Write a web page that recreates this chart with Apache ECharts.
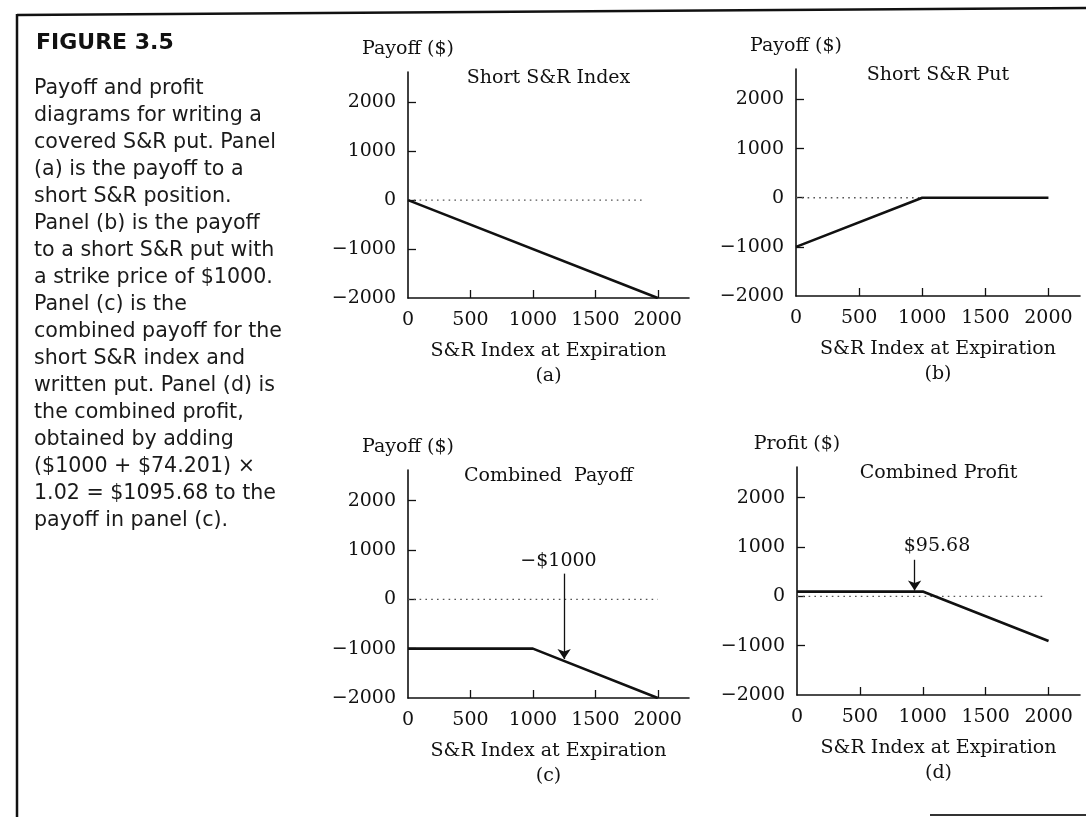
<!DOCTYPE html>
<html>
<head>
<meta charset="utf-8">
<script src="https://cdn.jsdelivr.net/npm/echarts@6/dist/echarts.min.js"></script>
<style>html,body{margin:0;padding:0;background:#fff}#c{width:1086px;height:817px}</style>
</head>
<body>
<div id="c"></div>
<script>
// ---- data ----
const panelTitles = ['Short S&R Index', 'Short S&R Put', 'Combined  Payoff', 'Combined Profit'];
const yNames = ['Payoff ($)', 'Payoff ($)', 'Payoff ($)', 'Profit ($)'];
const xName = 'S&R Index at Expiration';
const panelTags = ['(a)', '(b)', '(c)', '(d)'];
const xTickValues = [500, 1000, 1500, 2000];
const xLabelValues = [0, 500, 1000, 1500, 2000];
const yTickValues = [-1000, 0, 1000, 2000];
const yLabelValues = [-2000, -1000, 0, 1000, 2000];
const shortIndex = [[0, 0], [2000, -2000]];
const shortPut = [[0, -1000], [1000, 0], [2000, 0]];
const combinedPayoff = [[0, -1000], [1000, -1000], [2000, -2000]];
const combinedProfit = [[0, 95.68], [1000, 95.68], [2000, -904.32]];
const zeroLineEnds = [1880, 1000, 2000, 1980];
const arrowC = [[1250, 520], [1250, -1210]];
const arrowD = [[935, 740], [935, 115]];
const noteC = [[1205, 777, '−$1000']];
const noteD = [[1113, 1016, '$95.68']];
const captionTitle = 'FIGURE 3.5';
const captionLines = [
  'Payoff and profit',
  'diagrams for writing a',
  'covered S&R put. Panel',
  '(a) is the payoff to a',
  'short S&R position.',
  'Panel (b) is the payoff',
  'to a short S&R put with',
  'a strike price of $1000.',
  'Panel (c) is the',
  'combined payoff for the',
  'short S&R index and',
  'written put. Panel (d) is',
  'the combined profit,',
  'obtained by adding',
  '($1000 + $74.201) ×',
  '1.02 = $1095.68 to the',
  'payoff in panel (c).'
];

// ---- layout ----
const SERIF = '"DejaVu Serif", serif';
const grids = [
  {left: 408, top: 72, width: 281, height: 226},
  {left: 796, top: 69, width: 284, height: 227},
  {left: 408, top: 470, width: 281, height: 228},
  {left: 797, top: 467, width: 283, height: 228}
];
const fmt = v => (v < 0 ? '−' + Math.abs(v) : String(v));
const txt = {fontFamily: SERIF, fontSize: 19, color: '#111'};

const xAxes = grids.map((g, i) => ({
  type: 'value', gridIndex: i, min: 0, max: 2250,
  name: xName + '\n' + panelTags[i], nameLocation: 'middle', nameGap: 41,
  nameTextStyle: Object.assign({}, txt, {lineHeight: 25}),
  axisLine: {show: true, onZero: false, lineStyle: {color: '#111', width: 1.6}},
  axisTick: {show: true, inside: true, length: 8, customValues: xTickValues, lineStyle: {color: '#111', width: 1.3}},
  axisLabel: Object.assign({}, txt, {margin: 13, customValues: xLabelValues, formatter: fmt}),
  splitLine: {show: false}
}));
const yAxes = grids.map((g, i) => ({
  type: 'value', gridIndex: i, min: -2000, max: 2620,
  name: yNames[i], nameLocation: 'end', nameGap: 13,
  nameTextStyle: Object.assign({}, txt),
  axisLine: {show: true, onZero: false, lineStyle: {color: '#111', width: 1.6}},
  axisTick: {show: true, inside: true, length: 8, customValues: yTickValues, lineStyle: {color: '#111', width: 1.3}},
  axisLabel: Object.assign({}, txt, {margin: 12, customValues: yLabelValues, formatter: fmt}),
  splitLine: {show: false}
}));

const payoffs = [shortIndex, shortPut, combinedPayoff, combinedProfit];
const series = [];
payoffs.forEach((d, i) => {
  series.push({
    type: 'line', xAxisIndex: i, yAxisIndex: i, data: [[0, 0], [zeroLineEnds[i], 0]],
    symbol: 'none', silent: true, z: 1, animation: false,
    lineStyle: {color: '#555', width: 1.3, type: [1.6, 4.2]}
  });
  series.push({
    type: 'line', xAxisIndex: i, yAxisIndex: i, data: d,
    symbol: 'none', z: 3, animation: false,
    lineStyle: {color: '#111', width: 2.6}
  });
});
[[2, arrowC, noteC], [3, arrowD, noteD]].forEach(([i, arr, note]) => {
  series.push({
    type: 'scatter', xAxisIndex: i, yAxisIndex: i, z: 4, animation: false, silent: true,
    data: note.map(n => ({value: [n[0], n[1]], label: {formatter: n[2]}})),
    symbolSize: 1, itemStyle: {color: 'transparent'},
    label: {show: true, position: 'inside', fontFamily: SERIF, fontSize: 19, color: '#111', textBorderWidth: 0, opacity: 1},
    markLine: {
      silent: true, animation: false, symbol: ['none', 'arrow'], symbolSize: 10,
      label: {show: false},
      lineStyle: {color: '#111', type: 'solid', width: 1.3, opacity: 1},
      itemStyle: {color: '#111'},
      data: [[{coord: arr[0]}, {coord: arr[1]}]]
    }
  });
});

const graphic = [
  {type: 'polyline', shape: {points: [[17, 15], [1086, 8]]}, style: {stroke: '#111', lineWidth: 2.5}, silent: true},
  {type: 'line', shape: {x1: 17, y1: 14, x2: 17, y2: 817}, style: {stroke: '#111', lineWidth: 2.5}, silent: true},
  {type: 'line', shape: {x1: 930, y1: 815, x2: 1086, y2: 815}, style: {stroke: '#333', lineWidth: 2}, silent: true},
  {type: 'text', x: 36, y: 43, style: {text: captionTitle, font: 'bold 22px "DejaVu Sans", sans-serif', fill: '#111', textVerticalAlign: 'middle'}, silent: true},
  {type: 'text', x: 34, y: 75, style: {text: captionLines.join('\n'), font: '20.6px "DejaVu Sans", sans-serif', lineHeight: 27, fill: '#1a1a1a', textVerticalAlign: 'top'}, silent: true}
];
grids.forEach((g, i) => {
  graphic.push({type: 'text', x: g.left + g.width / 2, y: g.top + 6, silent: true,
    style: {text: panelTitles[i], font: '19px "DejaVu Serif", serif', fill: '#111', textAlign: 'center', textVerticalAlign: 'middle'}});
});

const chart = echarts.init(document.getElementById('c'), null, {renderer: 'canvas'});
chart.setOption({
  backgroundColor: '#fff',
  animation: false,
  grid: grids.map(g => Object.assign({containLabel: false}, g)),
  xAxis: xAxes,
  yAxis: yAxes,
  series: series,
  graphic: graphic
});
</script>
</body>
</html>
